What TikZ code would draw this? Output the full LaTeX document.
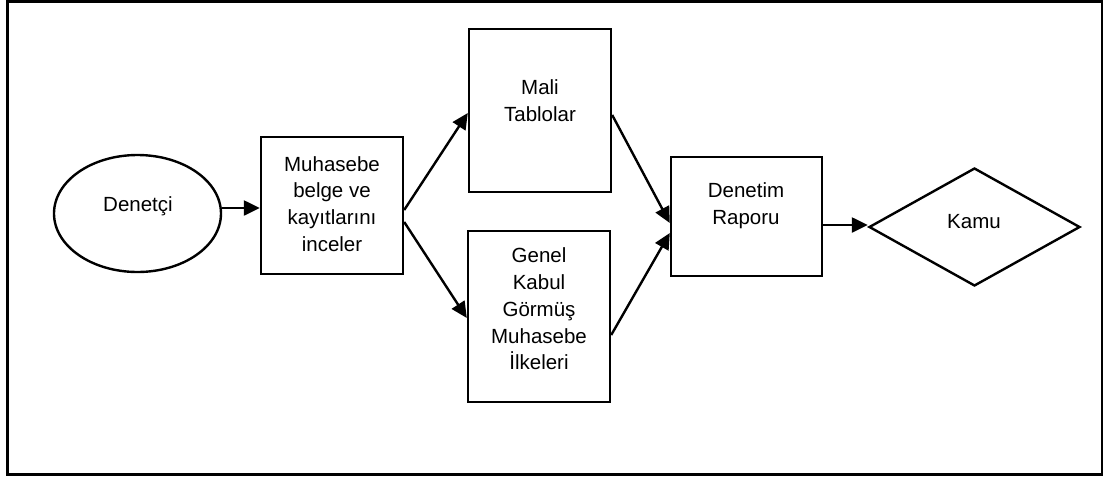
\documentclass[tikz,border=0pt]{standalone}
\usepackage{fontspec}
\setmainfont{Liberation Sans}
\usetikzlibrary{shapes.geometric,arrows.meta,calc}

\begin{document}
\begin{tikzpicture}[x=1pt,y=-1pt,
  shapeline/.style={draw=black,line width=2.4pt,inner sep=0pt},
  boxnode/.style={shapeline,rectangle},
  txt/.style={align=center,inner sep=0pt,font=\fontsize{20.5}{26.7}\selectfont},
  arr/.style={draw=black,line width=2.4pt,-{Triangle[length=16pt,width=15pt]}}]

  % page area and outer frame
  \useasboundingbox (0,0) rectangle (1103,477);
  \draw[line width=3pt] (7,1) rectangle (1102,474.3);

  % shapes
  \node[shapeline,ellipse,minimum width=167pt,minimum height=117pt] (den) at (137.5,213.5) {};
  \node[boxnode,minimum width=142pt,minimum height=137pt] (muh) at (332,205.5) {};
  \node[boxnode,minimum width=142pt,minimum height=163pt] (mali) at (540,110.5) {};
  \node[boxnode,minimum width=142pt,minimum height=171pt] (genel) at (539,316.5) {};
  \node[boxnode,minimum width=151pt,minimum height=119pt] (rap) at (746.5,216.5) {};
  \node[shapeline,diamond,aspect=1.79,minimum width=211pt,minimum height=118pt] (kamu) at (974.5,227) {};

  % texts
  \node[txt] (denT) at (138,206) {Denetçi};
  \node[txt] (muhT) at (332,204) {Muhasebe\\belge ve\\kayıtlarını\\inceler};
  \node[txt] (maliT) at (540,101) {Mali\\Tablolar};
  \node[txt] (genelT) at (539,309) {Genel\\Kabul\\Görmüş\\Muhasebe\\İlkeleri};
  \node[txt] (rapT) at (746,206) {Denetim\\Raporu};
  \node[txt] (kamuT) at (974,222) {Kamu};

  % connectors
  \draw[arr] ([yshift=5.5pt]den.east) -- ([yshift=5.5pt]den.east -| muh.west);
  \draw[arr] ([yshift=-4.5pt]muh.east) -- ([yshift=-2.5pt]mali.west);
  \draw[arr] ([yshift=-16.5pt]muh.east) -- ([yshift=-1.5pt]genel.west);
  \draw[arr] ([yshift=-4.5pt]mali.east) -- ([yshift=-6.5pt]rap.west);
  \draw[arr] ([yshift=-18.5pt]genel.east) -- ([yshift=-16.5pt]rap.west);
  \draw[arr] ([yshift=-8.5pt]rap.east) -- ([yshift=-8.5pt]rap.east -| kamu.west);
\end{tikzpicture}
\end{document}
